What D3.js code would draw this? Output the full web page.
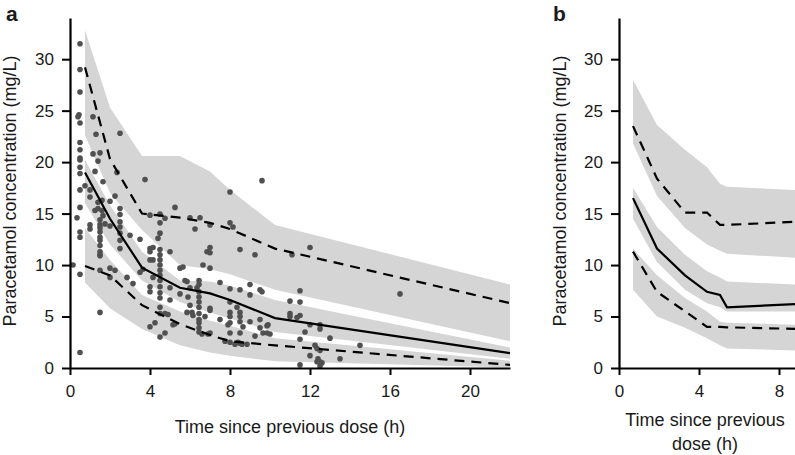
<!DOCTYPE html>
<html>
<head>
<meta charset="utf-8">
<script src="https://d3js.org/d3.v7.min.js"></script>
<style>
  body { margin: 0; background: #fff; }
  svg text { font-family: "Liberation Sans", Arial, sans-serif; fill: #1a1a1a; }
</style>
</head>
<body>
<div id="chart"></div>
<script>
    // ---- panel a: observed data + VPC percentiles ----
    var timeA = [0.75, 2.0, 3.6, 5.5, 7.0, 8.0, 10.25, 22];
    var p95A = [29.2, 20.3, 15.0, 14.6, 14.1, 13.5, 11.6, 6.3];
    var medA = [19.0, 14.5, 9.75, 7.8, 7.25, 6.6, 4.85, 1.45];
    var p5A = [9.9, 9.0, 6.1, 4.25, 3.2, 2.6, 2.2, 0.3];
    var upHiA = [32.8, 25.3, 20.6, 20.6, 19.1, 17.3, 13.9, 8.1];
    var upLoA = [22.6, 17.0, 13.4, 10.0, 9.6, 9.1, 7.6, 2.6];
    var midHiA = [20.2, 15.8, 11.3, 8.5, 8.4, 8.0, 6.6, 2.0];
    var midLoA = [16.0, 12.0, 8.5, 6.4, 5.4, 4.8, 3.5, 0.9];
    var lowHiA = [13.6, 10.5, 7.1, 5.5, 4.6, 4.1, 2.9, 0.7];
    var lowLoA = [8.3, 5.8, 3.8, 2.2, 1.5, 1.2, 0.65, 0.05];

    // observed concentrations [time (h), conc (mg/L)]
    var obsA = [
        [0.5,31.5],[0.5,29.0],[0.5,26.8],[0.45,24.6],[0.4,24.4],[0.5,23.8],[0.5,21.9],[0.5,21.2],[0.5,20.4],[0.5,20.2],
        [0.5,18.9],[0.5,17.3],[0.5,15.6],[0.5,13.2],[0.5,12.7],[0.5,9.1],[0.5,1.5],[0.35,14.6],[0.15,10.0],[0.75,17.7],[0.5,19.5],
        [1.15,24.4],[1.3,22.7],[1.15,20.8],[1.5,20.9],[1.4,20.1],[1.25,19.1],[1.65,18.1],[1.0,17.3],[1.0,16.6],[1.4,16.1],
        [1.6,16.3],[1.25,15.3],[1.4,15.5],[1.6,15.3],[1.65,14.8],[1.0,13.9],[1.0,13.5],[1.5,14.4],[1.5,13.9],[1.5,13.6],
        [1.5,13.2],[1.5,12.7],[1.5,12.4],[1.5,11.9],[1.5,11.3],[1.5,11.0],[1.5,10.9],[1.5,9.5],[1.5,5.4],[1.75,14.0],
        [2.5,22.8],[2.35,19.0],[2.25,16.7],[2.0,16.2],[2.5,15.5],[2.5,14.9],[2.5,14.2],[2.5,13.7],[2.5,13.1],[2.5,12.4],
        [2.5,11.6],[2.0,13.8],[2.0,9.7],[2.25,9.5],[2.0,8.8],[2.85,8.8],[3.0,12.9],[3.5,12.5],[3.15,8.2],[3.5,9.3],[3.65,9.6],[3.75,18.3],
        [4.0,14.85],[4.5,14.95],[4.75,14.55],[4.5,14.1],[4.5,13.1],[4.4,12.6],[4.0,11.6],[4.15,11.7],[4.0,11.3],[4.0,10.5],
        [4.15,10.5],[4.5,11.5],[4.5,11.0],[4.5,10.5],[4.5,10.0],[4.5,9.5],[4.5,9.0],[4.5,8.5],[4.5,7.9],[4.5,7.3],[4.5,6.8],
        [4.5,5.9],[4.5,5.3],[4.0,7.9],[4.0,7.4],[4.15,8.8],[4.0,4.0],[4.25,4.4],[4.5,3.0],[4.75,3.4],[5.0,11.3],[5.25,15.6],
        [5.0,7.8],[5.0,6.6],[4.75,5.3],[4.9,5.2],[5.15,4.2],[5.5,9.7],[5.65,9.8],[5.75,8.5],[5.5,7.2],[5.25,4.3],
        [5.85,8.4],[6.0,7.8],[5.9,6.9],[6.0,6.1],[6.1,5.4],[6.15,5.1],[5.85,5.4],[6.0,14.6],[6.5,14.6],[6.25,13.5],
        [6.45,8.5],[6.45,8.1],[6.45,7.4],[6.45,6.9],[6.45,6.4],[6.45,5.9],[6.45,5.3],[6.45,4.7],[6.45,4.4],[6.45,3.9],
        [6.45,3.5],[6.6,3.3],[6.9,3.3],[7.0,3.4],[6.35,7.8],[6.65,10.0],[7.0,9.7],[7.0,11.7],[6.85,11.3],[7.0,11.2],
        [7.0,13.9],[6.75,5.0],[7.0,5.6],[7.0,5.8],[7.5,8.3],[7.5,4.7],
        [8.0,17.1],[9.6,18.2],[8.0,14.1],[8.15,13.7],[8.5,11.5],[9.25,11.0],[8.0,7.7],[8.0,6.4],[8.0,5.4],[8.0,5.0],
        [8.0,4.4],[8.0,3.4],[8.0,2.5],[7.9,4.2],[8.35,5.9],[8.5,7.6],[8.5,5.4],[8.5,5.0],[8.5,4.5],[8.5,3.4],[8.65,4.0],
        [8.5,2.4],[7.75,2.6],[8.25,2.3],[8.4,2.5],[8.6,2.3],[8.85,2.3],[9.0,8.1],[9.0,7.1],[9.0,4.5],[9.25,3.1],
        [9.5,7.6],[9.6,7.4],[9.5,4.7],[9.5,3.9],[9.85,4.1],[9.65,3.4],[9.85,3.4],[9.9,4.2],[10.0,3.3],
        [11.1,11.0],[12.0,11.7],[16.5,7.2],[11.5,7.5],[11.0,6.5],[11.5,6.4],[11.0,5.3],[11.0,5.0],[11.35,4.9],[11.5,5.1],
        [12.0,4.2],[12.5,4.2],[12.5,3.8],[11.75,3.5],[11.5,2.8],[13.0,2.9],[14.5,2.2],[12.25,2.2],[12.35,1.9],[12.5,1.7],
        [12.0,1.2],[13.5,0.9],[12.4,0.9],[12.5,0.6],[12.6,0.5],[12.35,0.6],[11.5,0.3],[12.5,0.2]
    ];

    // ---- panel b: simulated percentiles only ----
    var timeB = [0.7, 1.9, 3.3, 4.4, 5.05, 5.4, 8.8];
    var p95B = [23.5, 18.4, 15.1, 15.1, 13.9, 13.9, 14.2];
    var medB = [16.5, 11.6, 9.0, 7.4, 7.1, 5.9, 6.2];
    var p5B = [11.3, 7.4, 5.5, 4.0, 4.0, 3.95, 3.8];
    var upHiB = [28.0, 23.6, 21.2, 19.5, 17.9, 17.6, 17.3];
    var upLoB = [21.8, 16.7, 13.6, 12.0, 11.4, 11.1, 10.7];
    var midHiB = [17.5, 13.7, 11.0, 9.4, 8.8, 8.4, 8.1];
    var midLoB = [14.5, 10.3, 7.6, 6.3, 5.9, 5.5, 5.5];
    var lowHiB = [11.6, 9.0, 6.8, 5.5, 4.5, 4.4, 4.2];
    var lowLoB = [7.6, 5.0, 3.9, 2.9, 2.2, 1.9, 1.7];

    var yTicks = [0, 5, 10, 15, 20, 25, 30];
    var xTicksA = [0, 4, 8, 12, 16, 20];
    var xTicksB = [0, 4, 8];

    var svg = d3.select("#chart").append("svg").attr("width", 795).attr("height", 455);

    function drawPanel(p) {
        var g = svg.append("g");
        var x = d3.scaleLinear().domain(p.xDomain).range(p.xRange);
        var y = d3.scaleLinear().domain([0, 34]).range([368, 18]);

        //置信带
        var area = d3.area().x(d => x(d.t)).y0(d => y(d.lo)).y1(d => y(d.hi));
        p.bands.forEach(function(b) {
            var rows = p.time.map((t, i) => ({t: t, lo: b[0][i], hi: b[1][i]}));
            g.append("path").attr("d", area(rows)).attr("fill", "#d5d5d5");
        });

        //观测点
        if (p.obs) {
            g.append("g").selectAll("circle").data(p.obs).enter().append("circle")
                .attr("cx", d => x(d[0])).attr("cy", d => y(d[1]))
                .attr("r", 2.8).attr("fill", "#505050");
        }

        //百分位线
        var line = d3.line().x(d => x(d[0])).y(d => y(d[1]));
        p.lines.forEach(function(l, k) {
            g.append("path").attr("d", line(p.time.map((t, i) => [t, l[i]])))
                .attr("fill", "none").attr("stroke", "#000").attr("stroke-width", 2.2)
                .attr("stroke-dasharray", k === 1 ? null : "10,7");
        });

        var yAxis = g.append("g").attr("transform", "translate(" + p.xRange[0] + ",0)")
            .call(d3.axisLeft(y).tickValues(yTicks).tickSize(8).tickSizeOuter(0).tickPadding(8));
        var xAxis = g.append("g").attr("transform", "translate(0,368)")
            .call(d3.axisBottom(x).tickValues(p.xTicks).tickSize(7).tickSizeOuter(0).tickPadding(10));
        [xAxis, yAxis].forEach(function(a) {
            a.select(".domain").attr("stroke", "#000").attr("stroke-width", 2.2);
            a.selectAll(".tick line").attr("stroke", "#000").attr("stroke-width", 2);
            a.selectAll(".tick text").style("font-size", "17px").attr("fill", "#1a1a1a");
        });

        g.append("text").text("Paracetamol concentration (mg/L)")
            .attr("transform", "translate(" + p.yLabelX + ",191) rotate(-90)")
            .attr("text-anchor", "middle").style("font-size", "18px");
        p.xLabel.forEach(function(s, i) {
            g.append("text").text(s).attr("x", p.xLabelX).attr("y", p.xLabelY + i * 24)
                .attr("text-anchor", "middle").style("font-size", "18px");
        });
        g.append("text").text(p.letter).attr("x", p.letterX).attr("y", 21)
            .style("font-size", "21px").style("font-weight", "bold");
    }

    drawPanel({
        time: timeA, xDomain: [0, 22], xRange: [70, 510], xTicks: xTicksA,
        bands: [[upLoA, upHiA], [midLoA, midHiA], [lowLoA, lowHiA]],
        lines: [p95A, medA, p5A], obs: obsA,
        yLabelX: 16, xLabel: ["Time since previous dose (h)"], xLabelX: 290, xLabelY: 433,
        letter: "a", letterX: 6
    });
    drawPanel({
        time: timeB, xDomain: [0, 8.8], xRange: [619, 795], xTicks: xTicksB,
        bands: [[upLoB, upHiB], [midLoB, midHiB], [lowLoB, lowHiB]],
        lines: [p95B, medB, p5B], obs: null,
        yLabelX: 566, xLabel: ["Time since previous", "dose (h)"], xLabelX: 705, xLabelY: 426,
        letter: "b", letterX: 553
    });
</script>
</body>
</html>
